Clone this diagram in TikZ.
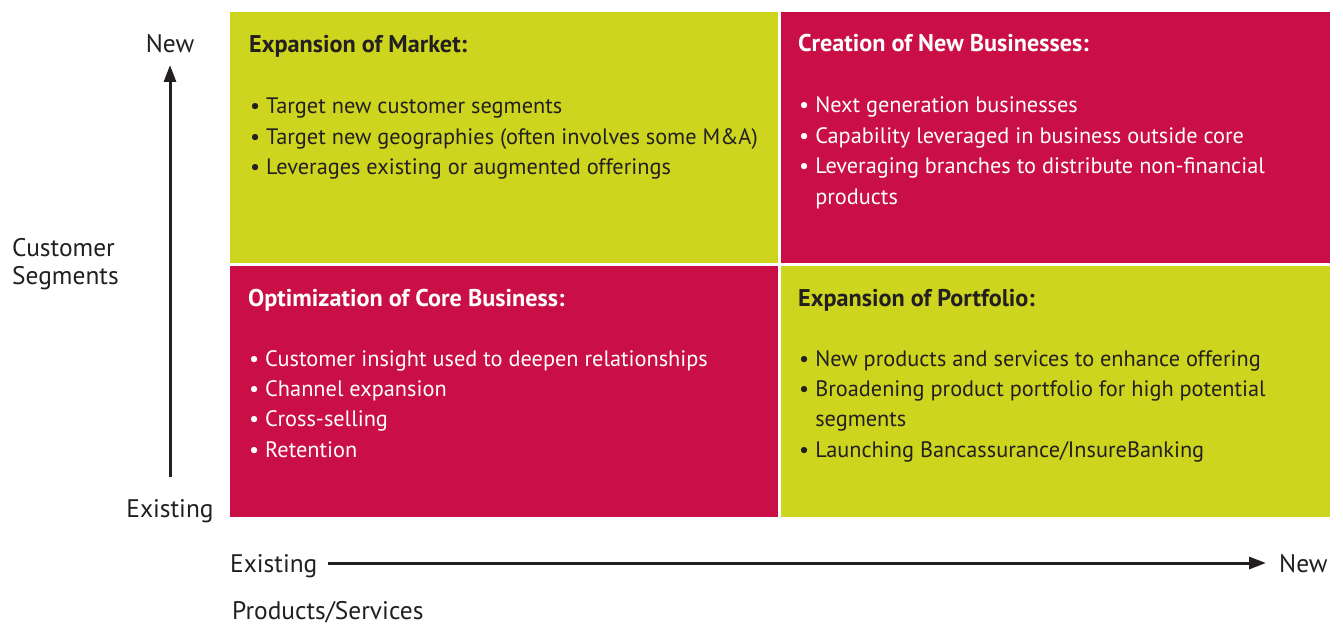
\documentclass[tikz,border=0pt]{standalone}
\usepackage{fontspec}
\setmainfont{PT Sans}
\usetikzlibrary{positioning}
\usetikzlibrary{arrows.meta}
\definecolor{lime}{RGB}{205,213,30}
\definecolor{crimson}{RGB}{201,15,70}
\definecolor{ink}{RGB}{35,31,32}
\newcommand{\bodyfont}{\fontsize{22.4}{30.5}\selectfont}
\newcommand{\headfont}{\fontsize{24.3}{30.5}\selectfont\bfseries}
\newcommand{\axisfont}{\fontsize{25.5}{28}\selectfont}
% list that hangs from the baseline of its first line
\newcommand{\itemlist}[1]{\begin{tabular}[t]{@{}l@{}}#1\end{tabular}}
\tikzset{
    % Plain filled triangle for both axes
    >={Triangle[length=17bp,width=12bp]},
%
    % One quarter of the matrix, drawn as a sized empty node
    quadrant/.style={anchor=north west, inner sep=0,
        minimum width=548bp, minimum height=251bp},
%
    % The two fills that alternate round the matrix
    lime fill/.style={fill=lime, text=ink},
    crimson fill/.style={fill=crimson, text=white},
%
    % Heading and bullet list inside a quadrant
    heading/.style={anchor=base west, inner sep=0, font=\headfont},
    bullets/.style={anchor=base west, inner sep=0, font=\bodyfont},
%
    % Axis texts and axis lines
    axis label/.style={anchor=base west, inner sep=0, font=\axisfont, text=ink},
    axis/.style={line width=3bp, ->, draw=ink}}

\begin{document}
\begin{tikzpicture}[x=1bp, y=-1bp]
\useasboundingbox (0,0) rectangle (1343,627);

\node [quadrant, lime fill] (market) at (230,12) {};
\node [quadrant, crimson fill, minimum width=549bp] (new biz) at (781,12) {};
\node [quadrant, crimson fill] (core) at (230,266) {};
\node [quadrant, lime fill, minimum width=549bp] (portfolio) at (781,266) {};

\node [heading, text=ink] (market head)
    at ([shift={(19,41)}]market.north west) {Expansion of Market:};
\node [bullets, text=ink] (market list)
    at ([shift={(20,102)}]market.north west)
    {\itemlist{• Target new customer segments\\
     • Target new geographies (often involves some M\&A)\\
     • Leverages existing or augmented offerings}};

\node [heading, text=white] (new biz head)
    at ([shift={(17,40)}]new biz.north west) {Creation of New Businesses:};
\node [bullets, text=white] (new biz list)
    at ([shift={(18,101)}]new biz.north west)
    {\itemlist{• Next generation businesses\\
     • Capability leveraged in business outside core\\
     • Leveraging branches to distribute non-financial\\
     \phantom{• }products}};

\node [heading, text=white] (core head)
    at ([shift={(18,40)}]core.north west) {Optimization of Core Business:};
\node [bullets, text=white] (core list)
    at ([shift={(19,100)}]core.north west)
    {\itemlist{• Customer insight used to deepen relationships\\
     • Channel expansion\\
     • Cross-selling\\
     • Retention}};

\node [heading, text=ink] (portfolio head)
    at ([shift={(17,40)}]portfolio.north west) {Expansion of Portfolio:};
\node [bullets, text=ink] (portfolio list)
    at ([shift={(18,100)}]portfolio.north west)
    {\itemlist{• New products and services to enhance offering\\
     • Broadening product portfolio for high potential\\
     \phantom{• }segments\\
     • Launching Bancassurance/InsureBanking}};

% vertical axis
\node [axis label, anchor=base] (seg new) at (170,53) {New};
\node [axis label, anchor=base] (seg old) at (170,517) {Existing};
\node [axis label, align=left] (seg title) at (12,284)
    {Customer\\Segments};
\coordinate (seg low) at (170,477);
\coordinate (seg high) at (170,65);
\draw [axis] (seg low) -- (seg high);

% horizontal axis
\node [axis label] (prod old) at (230,572) {Existing};
\node [axis label] (prod new) at (1279,572) {New};
\node [axis label] (prod title) at (232,619) {Products/Services};
\coordinate (prod low) at (328,563);
\coordinate (prod high) at (1266,563);
\draw [axis] (prod low) -- (prod high);

\end{tikzpicture}
\end{document}
